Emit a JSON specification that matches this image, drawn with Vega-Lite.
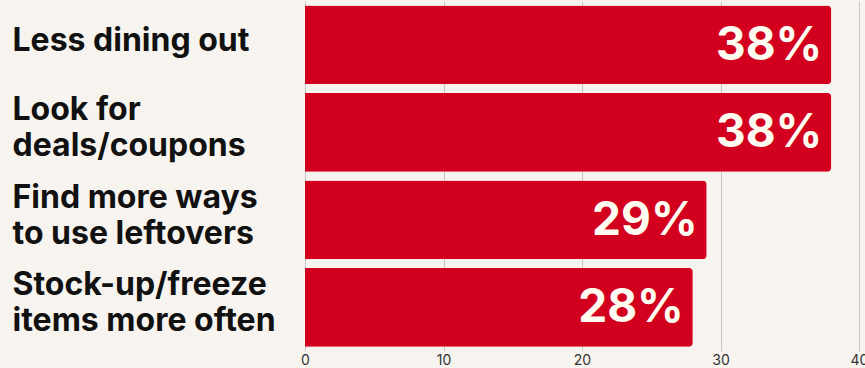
{
  "$schema": "https://vega.github.io/schema/vega-lite/v6.json",
  "autosize": {"type": "none"},
  "width": 554,
  "height": 350,
  "padding": {"left": 305, "top": 1, "right": 6, "bottom": 17},
  "background": "#f7f4ef",
  "config": {"view": {"stroke": null}},
  "data": {
    "values": [
      {"item": "Less dining out", "pct": 38},
      {"item": "Look for|deals/coupons", "pct": 38},
      {"item": "Find more ways|to use leftovers", "pct": 29},
      {"item": "Stock-up/freeze|items more often", "pct": 28}
    ]
  },
  "transform": [{"calculate": "datum.pct + '%'", "as": "label"}],
  "encoding": {
    "y": {
      "field": "item",
      "type": "nominal",
      "sort": null,
      "scale": {"paddingInner": 0.1, "paddingOuter": 0.05},
      "axis": {
        "title": null,
        "domain": false,
        "ticks": false,
        "labelAlign": "left",
        "labelPadding": 293,
        "labelFont": "Inter",
        "labelFontWeight": "bold",
        "labelFontSize": 32,
        "labelLineHeight": 36,
        "labelColor": "#111111",
        "labelLimit": 400,
        "labelOffset": {"condition": {"test": "indexof(datum.value, '|') >= 0", "value": -22}, "value": -4},
        "labelExpr": "split(datum.label, '|')"
      }
    }
  },
  "layer": [
    {
      "mark": {"type": "bar", "color": "#d2001e", "cornerRadiusEnd": 4},
      "encoding": {
        "x": {
          "field": "pct",
          "type": "quantitative",
          "scale": {"domain": [0, 40]},
          "axis": {
            "title": null,
            "values": [0, 10, 20, 30, 40],
            "domain": false,
            "ticks": false,
            "grid": true,
            "gridColor": "#c9c6c2",
            "gridWidth": 1,
            "labelFont": "Inter",
            "labelFontSize": 14,
            "labelColor": "#333333",
            "labelPadding": 2,
            "labelFlush": false
          }
        }
      }
    },
    {
      "mark": {
        "type": "text",
        "align": "right",
        "baseline": "middle",
        "dx": -9,
        "dy": 1,
        "font": "Inter",
        "fontWeight": "bold",
        "fontSize": 46,
        "color": "#fffdf2"
      },
      "encoding": {
        "x": {"field": "pct", "type": "quantitative"},
        "text": {"field": "label", "type": "nominal"}
      }
    }
  ]
}
